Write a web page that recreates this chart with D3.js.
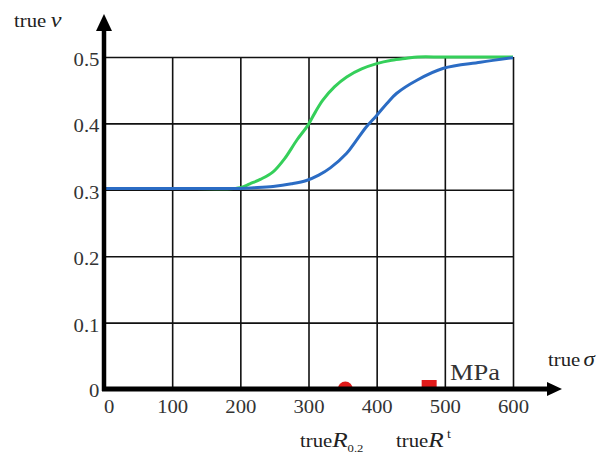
<!DOCTYPE html>
<html>
<head>
<meta charset="utf-8">
<script src="https://cdn.jsdelivr.net/npm/d3@7"></script>
<style>
  html, body { margin: 0; padding: 0; background: #fff; }
  svg { display: block; }
</style>
</head>
<body>
<svg id="chart" width="604" height="456"></svg>
<script>
// ---- data ----
const xTicks = [0, 100, 200, 300, 400, 500, 600];
const yTicks = [0, 0.1, 0.2, 0.3, 0.4, 0.5];
const yTickLabels = ["0", "0.1", "0.2", "0.3", "0.4", "0.5"];

const greenSigma = [0, 100, 190, 200, 214, 230, 248, 265, 283, 299, 310, 321, 338, 356, 378, 400, 422, 444, 460, 500, 600];
const greenNu    = [0.302, 0.302, 0.302, 0.303, 0.309, 0.316, 0.327, 0.347, 0.375, 0.397, 0.417, 0.435, 0.455, 0.470, 0.482, 0.490, 0.495, 0.498, 0.500, 0.500, 0.500];

const blueSigma = [0, 100, 200, 220, 248, 275, 297, 315, 332, 356, 370, 385, 400, 415, 429, 459, 498, 552, 600];
const blueNu    = [0.302, 0.302, 0.302, 0.303, 0.305, 0.309, 0.314, 0.322, 0.333, 0.355, 0.374, 0.395, 0.412, 0.430, 0.445, 0.465, 0.483, 0.492, 0.499];

const markerR02 = 354;  // half-disc marker on sigma axis
const markerRt  = 477;  // square marker on sigma axis

// ---- layout ----
const FONT = "'Liberation Serif', 'Times New Roman', serif";
const svg = d3.select("#chart").style("font-family", FONT);
const x = d3.scaleLinear().domain([0, 600]).range([104, 513]);
const y = d3.scaleLinear().domain([0, 0.5]).range([389, 57]);
const SX = "scale(1.15,1)";

// grid (vertical)
const gx = svg.append("g").attr("transform", `translate(0,${y(0)})`)
  .call(d3.axisBottom(x).tickValues(xTicks.slice(1)).tickSize(-(y(0) - y(0.5))).tickFormat(""));
gx.select(".domain").remove();
gx.selectAll("line").attr("stroke", "#111").attr("stroke-width", 1.6);

// grid (horizontal)
const gy = svg.append("g").attr("transform", `translate(${x(0)},0)`)
  .call(d3.axisLeft(y).tickValues(yTicks.slice(1)).tickSize(-(x(600) - x(0))).tickFormat(""));
gy.select(".domain").remove();
gy.selectAll("line").attr("stroke", "#111").attr("stroke-width", 1.6);

// curves
const line = d3.line().x(d => x(d[0])).y(d => y(d[1])).curve(d3.curveCatmullRom.alpha(0.5));
svg.append("path").datum(greenSigma.map((s, i) => [s, greenNu[i]]))
  .attr("d", line).attr("fill", "none").attr("stroke", "#35cf5a").attr("stroke-width", 3);
svg.append("path").datum(blueSigma.map((s, i) => [s, blueNu[i]]))
  .attr("d", line).attr("fill", "none").attr("stroke", "#2b6cc4").attr("stroke-width", 3);

// markers
const cx = x(markerR02), cy = y(0);
svg.append("path")
  .attr("d", `M${cx - 7.5},${cy} A7.5,7.5 0 0 1 ${cx + 7.5},${cy} Z`)
  .attr("fill", "#e01a1a");
svg.append("rect").attr("x", x(markerRt) - 7.5).attr("y", y(0) - 9).attr("width", 15).attr("height", 9).attr("fill", "#e01a1a");

// x tick labels
const ax = svg.append("g").attr("transform", `translate(0,${y(0)})`)
  .call(d3.axisBottom(x).tickValues(xTicks).tickSize(0).tickFormat(d => d));
ax.select(".domain").remove();
ax.attr("font-family", null).attr("font-size", null);
ax.selectAll("text")
  .attr("y", 24).attr("dy", 0)
  .attr("dx", d => d === 0 ? 4 : 0)
  .style("font-family", FONT).style("font-size", "18px")
  .attr("fill", "#333").attr("transform", SX);

// y tick labels
const ay = svg.append("g").attr("transform", `translate(${x(0)},0)`)
  .call(d3.axisLeft(y).tickValues(yTicks).tickSize(0).tickFormat((d, i) => yTickLabels[i]));
ay.select(".domain").remove();
ay.attr("font-family", null).attr("font-size", null);
ay.selectAll("text")
  .attr("x", -4).attr("dy", (d) => d === 0 ? 7 : 8.5)
  .style("font-family", FONT).style("font-size", "18px")
  .attr("fill", "#333").attr("transform", SX);

// axes (thick) with arrows
svg.append("line").attr("x1", x(0)).attr("y1", y(0) + 2).attr("x2", x(0)).attr("y2", 26)
  .attr("stroke", "#000").attr("stroke-width", 4.5);
svg.append("path").attr("d", `M${x(0)},14 L${x(0) - 8},31 L${x(0) + 8},31 Z`).attr("fill", "#000");
svg.append("line").attr("x1", x(0) - 2).attr("y1", y(0)).attr("x2", 552).attr("y2", y(0))
  .attr("stroke", "#000").attr("stroke-width", 5);
svg.append("path").attr("d", `M562,${y(0)} L547,${y(0) - 7} L547,${y(0) + 7} Z`).attr("fill", "#000");

// axis titles
const tNu = svg.append("text").attr("transform", `translate(14,27) ${SX}`).style("font-size", "18px").attr("fill", "#222");
tNu.append("tspan").text("true");
tNu.append("tspan").attr("dx", 4).attr("font-style", "italic").style("font-size", "21px").text("ν");

const tSig = svg.append("text").attr("transform", `translate(548,366) ${SX}`).style("font-size", "18px").attr("fill", "#222");
tSig.append("tspan").text("true");
tSig.append("tspan").attr("dx", 3).attr("font-style", "italic").style("font-size", "20px").text("σ");

svg.append("text").attr("transform", `translate(450,380) ${SX}`).style("font-size", "23px").attr("fill", "#333").text("MPa");

// marker labels
const tR02 = svg.append("text").attr("transform", `translate(300,447) ${SX}`).style("font-size", "18px").attr("fill", "#222");
tR02.append("tspan").text("true");
tR02.append("tspan").attr("font-style", "italic").style("font-size", "22px").text("R");
tR02.append("tspan").style("font-size", "11px").attr("dy", 5).text("0.2");

const tRt = svg.append("text").attr("transform", `translate(396,447) ${SX}`).style("font-size", "18px").attr("fill", "#222");
tRt.append("tspan").text("true");
tRt.append("tspan").attr("font-style", "italic").style("font-size", "22px").text("R");
tRt.append("tspan").style("font-size", "12px").attr("dx", 3).attr("dy", -9).text("t");
</script>
</body>
</html>
